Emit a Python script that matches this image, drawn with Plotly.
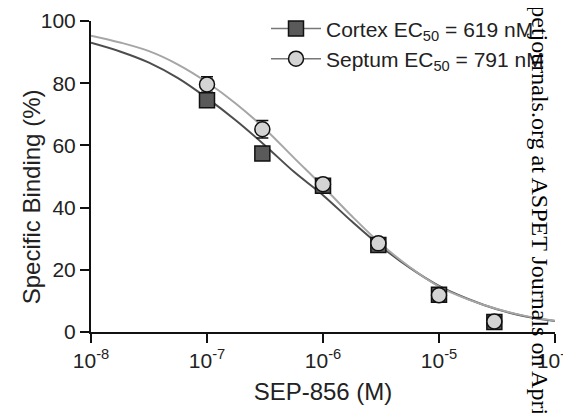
import plotly.graph_objects as go

# ---- data ----
conc = [1e-7, 3e-7, 1e-6, 3e-6, 1e-5, 3e-5]
cortex_binding = [74.5, 57.4, 47.0, 28.0, 12.0, 3.2]
cortex_sem = [1.2, 1.2, 1.0, 1.0, 1.0, 0.8]
septum_binding = [79.6, 65.2, 47.5, 28.5, 11.8, 3.4]
septum_sem = [2.5, 2.8, 1.2, 1.0, 1.0, 0.8]

fit_log_conc = [-8.0, -7.75, -7.5, -7.25, -7.0, -6.75, -6.5, -6.25, -6.0,
                -5.75, -5.5, -5.25, -5.0, -4.75, -4.5, -4.25, -4.0]
cortex_fit = [93.0, 90.2, 86.6, 81.6, 75.2, 68.0, 60.0, 51.5, 44.0,
              35.5, 27.5, 20.6, 14.8, 10.6, 7.3, 5.0, 3.5]
septum_fit = [95.3, 93.1, 90.3, 86.0, 80.3, 73.4, 65.3, 56.0, 46.8,
              37.2, 28.3, 20.8, 14.6, 10.5, 7.4, 5.1, 3.6]

x_tickvals = [1e-8, 1e-7, 1e-6, 1e-5, 1e-4]
x_ticktext = ["10<sup>-8</sup>", "10<sup>-7</sup>", "10<sup>-6</sup>",
              "10<sup>-5</sup>", "10<sup>-4</sup>"]
y_tickvals = [0, 20, 40, 60, 80, 100]

cortex_label = "Cortex EC<sub>50</sub> = 619 nM"
septum_label = "Septum EC<sub>50</sub> = 791 nM"
x_title = "SEP-856 (M)"
y_title = "Specific Binding (%)"
watermark = "aspetjournals.org at ASPET Journals on April"

FONT = "Liberation Sans, Arial, sans-serif"
TXT = "#222222"
CORTEX_LINE = "#4d4d4d"
SEPTUM_LINE = "#a6a6a6"
CORTEX_FILL = "#5a5a5a"
SEPTUM_FILL = "#d4d4d4"

# page offset (body margin) compensation
OFF = 8
PL, PR, PT, PB = 91, 555, 20.7, 331.7   # plot area in page pixels
PW, PH = PR - PL, PB - PT

def px(x):
    return (x - PL) / PW

def py(y):
    return (PB - y) / PH

fit_conc = [10 ** v for v in fit_log_conc]

fig = go.Figure()

# fitted curves
fig.add_trace(go.Scatter(x=fit_conc, y=cortex_fit, mode="lines",
                         line=dict(color=CORTEX_LINE, width=2, shape="spline"),
                         showlegend=False, hoverinfo="skip", cliponaxis=False))
fig.add_trace(go.Scatter(x=fit_conc, y=septum_fit, mode="lines",
                         line=dict(color=SEPTUM_LINE, width=2, shape="spline"),
                         showlegend=False, hoverinfo="skip", cliponaxis=False))

# data points
fig.add_trace(go.Scatter(x=conc, y=cortex_binding, mode="markers",
                         marker=dict(symbol="square", size=15, color=CORTEX_FILL,
                                     line=dict(color="#111111", width=1.5)),
                         error_y=dict(type="data", array=cortex_sem, color="#111111",
                                      thickness=1.5, width=6),
                         showlegend=False, cliponaxis=False))
fig.add_trace(go.Scatter(x=conc, y=septum_binding, mode="markers",
                         marker=dict(symbol="circle", size=15, color=SEPTUM_FILL,
                                     line=dict(color="#111111", width=1.5)),
                         error_y=dict(type="data", array=septum_sem, color="#111111",
                                      thickness=1.5, width=6),
                         showlegend=False, cliponaxis=False))

# legend entries
fig.add_trace(go.Scatter(x=[None], y=[None], mode="lines+markers", name=cortex_label,
                         marker=dict(symbol="square", size=15, color=CORTEX_FILL,
                                     line=dict(color="#111111", width=1.5)),
                         line=dict(color="#777777", width=1.5)))
fig.add_trace(go.Scatter(x=[None], y=[None], mode="lines+markers", name=septum_label,
                         marker=dict(symbol="circle", size=15, color=SEPTUM_FILL,
                                     line=dict(color="#111111", width=1.5)),
                         line=dict(color="#777777", width=1.5)))

fig.update_layout(
    width=571, height=413,
    margin=dict(l=PL - OFF, r=571 - PR + OFF, t=PT - OFF, b=413 - PB + OFF,
                autoexpand=False),
    paper_bgcolor="white", plot_bgcolor="white",
    font=dict(family=FONT, color=TXT, size=21),
    showlegend=True,
    legend=dict(x=px(266), y=1.041, xanchor="left", yanchor="top",
                bgcolor="rgba(0,0,0,0)", font=dict(size=21, color=TXT),
                itemwidth=50, tracegroupgap=0),
    xaxis=dict(type="log", range=[-8, -4], tickvals=x_tickvals, ticktext=x_ticktext,
               automargin=False,
               showline=True, linecolor="#111111", linewidth=2,
               ticks="outside", ticklen=9, tickwidth=2, tickcolor="#111111",
               showgrid=False, zeroline=False,
               tickfont=dict(size=21, color=TXT),
               title=dict(text=x_title, font=dict(size=24, color=TXT), standoff=12)),
    yaxis=dict(range=[0, 100], tickvals=y_tickvals, automargin=False,
               showline=True, linecolor="#111111", linewidth=2,
               ticks="outside", ticklen=9, tickwidth=2, tickcolor="#111111",
               showgrid=False, zeroline=False,
               tickfont=dict(size=21, color=TXT)),
    annotations=[
        dict(text=y_title, xref="paper", yref="paper", x=px(31), y=py(197),
             xanchor="center", yanchor="middle", textangle=-90, showarrow=False,
             font=dict(size=24, color=TXT)),
        dict(text=watermark, xref="paper", yref="paper", x=px(540), y=py(203),
             xanchor="center", yanchor="middle", textangle=90, showarrow=False,
             font=dict(family="Liberation Serif, Times New Roman, serif",
                       size=24, color="#000000")),
    ],
)

fig.write_html("out.html")
